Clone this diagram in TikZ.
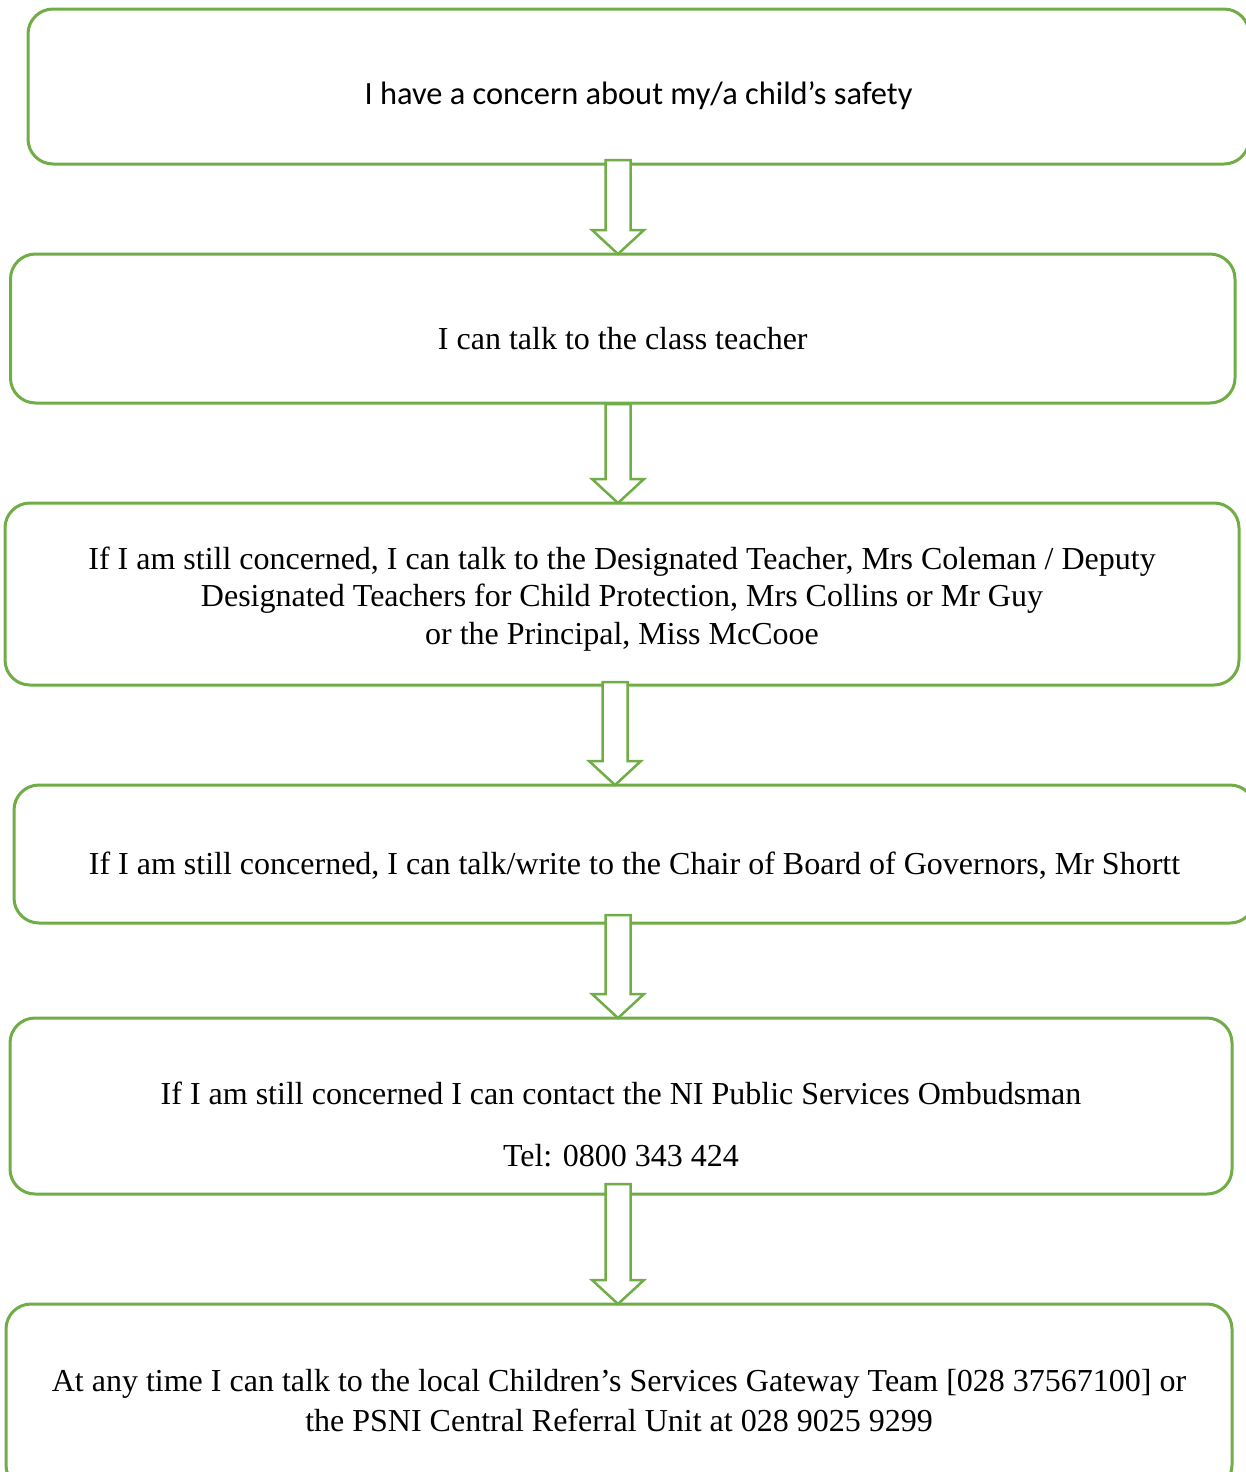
\documentclass[tikz,border=0pt]{standalone}
\usepackage{fontspec}
\setmainfont{Liberation Serif}
\newfontfamily\calibrifont{Carlito}
\usepackage{xcolor}
\usepackage{tikz}
\usetikzlibrary{positioning, calc}

\definecolor{flowgreen}{RGB}{112,173,71}

\newcommand{\FlowArrow}[2]{%
	\draw[FlowArrowLine] ($(#1)+(-12.5,0)$) -- ($(#2.north -| #1)+(-12.5,-24)$) -- ($(#2.north -| #1)+(-26,-24)$) -- (#2.north -| #1) -- ($(#2.north -| #1)+(26,-24)$) -- ($(#2.north -| #1)+(12.5,-24)$) -- ($(#1)+(12.5,0)$) -- cycle;}

\begin{document}
\begin{tikzpicture}[x=0.5pt, y=-0.5pt,
				FlowBox/.style={rectangle, rounded corners=12.5pt, draw=flowgreen, line width=1.5pt, outer sep=0pt, inner sep=0pt},
				FlowText/.style={anchor=base, align=center, font=\fontsize{16}{18.75}\selectfont},
				FlowArrowLine/.style={draw=flowgreen, fill=white, line width=1.25pt, line join=miter}]

			\path[use as bounding box] (0,0) rectangle (1246,1472);
			\clip (0,0) rectangle (1246,1472);

			\node[FlowBox, minimum width=610.5pt, minimum height=77.5pt] (Concern) at (638.5,86.5) {};
			\node[FlowBox, minimum width=612.25pt, minimum height=74.5pt] (Teacher) at (622.75,328.5) {};
			\node[FlowBox, minimum width=617pt, minimum height=91pt] (Designated) at (622,594) {};
			\node[FlowBox, minimum width=620.5pt, minimum height=69pt] (Governors) at (634.5,854) {};
			\node[FlowBox, minimum width=611pt, minimum height=88pt] (Ombudsman) at (621,1106) {};
			\node[FlowBox, minimum width=613pt, minimum height=93pt] (Gateway) at (619,1397) {};

			\node[FlowText, font=\calibrifont\fontsize{16.2}{18.75}\selectfont] (ConcernText) at (638.5,104) {I have a concern about my/a child’s safety};
			\node[FlowText] (TeacherText) at (622.75,349) {I can talk to the class teacher};
			\node[FlowText] (DesignatedText) at (622,644) {If I am still concerned, I can talk to the Designated Teacher, Mrs Coleman / Deputy\\Designated Teachers for Child Protection, Mrs Collins or Mr Guy\\or the Principal, Miss McCooe};
			\node[FlowText] (GovernorsText) at (634.5,874) {If I am still concerned, I can talk/write to the Chair of Board of Governors, Mr Shortt};
			\node[FlowText] (OmbudsmanText) at (621,1166) {If I am still concerned I can contact the NI Public Services Ombudsman\\[12.25pt]Tel: 0800 343 424};
			\node[FlowText, font=\fontsize{16}{20}\selectfont] (GatewayText) at (619,1431) {At any time I can talk to the local Children’s Services Gateway Team [028 37567100] or\\the PSNI Central Referral Unit at 028 9025 9299};

			\coordinate (A1) at (618,160);
			\coordinate (A2) at (618,404);
			\coordinate (A3) at (615,682);
			\coordinate (A4) at (618,915);
			\coordinate (A5) at (618,1184);
			\FlowArrow{A1}{Teacher}
			\FlowArrow{A2}{Designated}
			\FlowArrow{A3}{Governors}
			\FlowArrow{A4}{Ombudsman}
			\FlowArrow{A5}{Gateway}
		\end{tikzpicture}
\end{document}
